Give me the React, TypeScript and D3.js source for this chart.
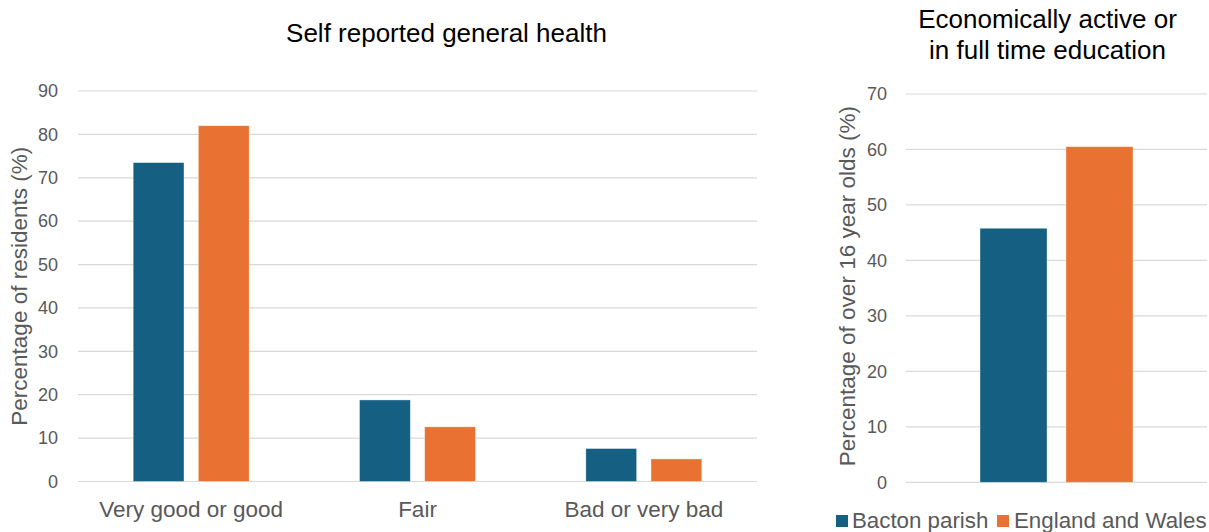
import React from 'react';
import * as d3 from 'd3';

const healthCategories = ['Very good or good', 'Fair', 'Bad or very bad'];
const healthBacton = [73.5, 18.8, 7.6];
const healthEngland = [82.0, 12.6, 5.2];
const healthTicks = [0, 10, 20, 30, 40, 50, 60, 70, 80, 90];

const activeBacton = 45.8;
const activeEngland = 60.5;
const activeTicks = [0, 10, 20, 30, 40, 50, 60, 70];

const seriesNames = ['Bacton parish', 'England and Wales'];
const colors = ['#156082', '#E97132'];

const FONT = 'Liberation Sans, Arial, sans-serif';
const GREY = '#595959';

const App = () => {
  const width = 1209;
  const height = 532;

  // left chart
  const lx = d3.scaleBand().domain(healthCategories).range([78, 757]);
  const ly = d3.scaleLinear().domain([0, 90]).range([481.5, 91]);
  const inner = d3.scaleBand().domain(seriesNames).range([0, 116]).paddingInner(0.22);

  // right chart
  const ry = d3.scaleLinear().domain([0, 70]).range([482.3, 94]);
  const rx = d3.scaleBand().domain(seriesNames).range([980, 1133]).paddingInner(0.22);

  const healthRows = healthCategories.map((c, i) => ({ c, vals: [healthBacton[i], healthEngland[i]] }));
  const activeVals = [activeBacton, activeEngland];

  return (
    <svg width={width} height={height} style={{ position: 'absolute', left: 0, top: 0 }} fontFamily={FONT}>
      <rect width={width} height={height} fill="#fff" />

      {/* left title */}
      <text x={446.5} y={42} textAnchor="middle" fontSize={26} fill="#000">Self reported general health</text>

      {/* gridlines */}
      {healthTicks.map(t => (
        <g key={'lt' + t}>
          <line x1={78} x2={757} y1={ly(t)} y2={ly(t)} stroke="#D9D9D9" strokeWidth={1.2} />
          <text x={58} y={ly(t)} dy="0.35em" textAnchor="end" fontSize={18} fill={GREY}>{t}</text>
        </g>
      ))}

      {healthRows.map(r => {
        const x0 = (lx(r.c) as number) + lx.bandwidth() / 2 - 58;
        return (
          <g key={r.c}>
            {r.vals.map((v, j) => (
              <rect key={j} x={x0 + (inner(seriesNames[j]) as number)} y={ly(v)} width={inner.bandwidth()}
                height={ly(0) - ly(v)} fill={colors[j]} stroke="#fff" strokeOpacity={0.5} strokeWidth={0.75} />
            ))}
            <text x={(lx(r.c) as number) + lx.bandwidth() / 2} y={517} textAnchor="middle" fontSize={22.5} fill={GREY}>{r.c}</text>
          </g>
        );
      })}

      <text transform={`translate(27,${ly(45)}) rotate(-90)`} textAnchor="middle" fontSize={22.5} fill={GREY}>
        Percentage of residents (%)
      </text>

      {/* right title */}
      <text x={1047.5} y={28} textAnchor="middle" fontSize={26} fill="#000">Economically active or</text>
      <text x={1047.5} y={59} textAnchor="middle" fontSize={26} fill="#000">in full time education</text>

      {activeTicks.map(t => (
        <g key={'rt' + t}>
          <line x1={906} x2={1207} y1={ry(t)} y2={ry(t)} stroke="#D9D9D9" strokeWidth={1.2} />
          <text x={887} y={ry(t)} dy="0.35em" textAnchor="end" fontSize={18} fill={GREY}>{t}</text>
        </g>
      ))}

      {activeVals.map((v, j) => (
        <rect key={j} x={rx(seriesNames[j]) as number} y={ry(v)} width={rx.bandwidth()} height={ry(0) - ry(v)}
          fill={colors[j]} stroke="#fff" strokeOpacity={0.5} strokeWidth={0.75} />
      ))}

      <text transform={`translate(855,${ry(35) - 2}) rotate(-90)`} textAnchor="middle" fontSize={22.5} fill={GREY}>
        Percentage of over 16 year olds (%)
      </text>

      {/* legend */}
      <rect x={836} y={515} width={12} height={12} fill={colors[0]} />
      <text x={852} y={528} fontSize={22.3} fill={GREY}>{seriesNames[0]}</text>
      <rect x={997} y={515} width={12} height={12} fill={colors[1]} />
      <text x={1014} y={528} fontSize={22.3} fill={GREY}>{seriesNames[1]}</text>
    </svg>
  );
};

export default App;
